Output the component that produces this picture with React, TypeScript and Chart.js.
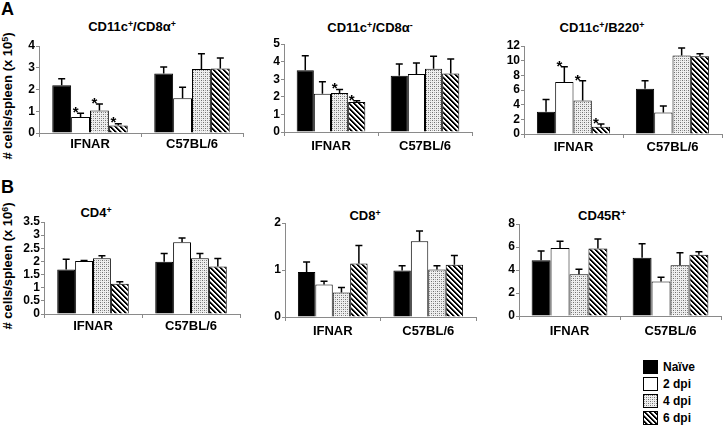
import React, { useEffect, useRef } from "react";
import { Chart, registerables } from "chart.js";

Chart.register(...registerables);

const FONT = "'Liberation Sans', Arial, Helvetica, sans-serif";
Chart.defaults.font.family = FONT;
Chart.defaults.color = "#000";

// ---------- data ----------
const groups = ["IFNAR", "C57BL/6"];
const seriesNames = ["Naïve", "2 dpi", "4 dpi", "6 dpi"];

// Panel A: CD11c+/CD8α+  (x 10^5)   rows = Naïve, 2 dpi, 4 dpi, 6 dpi ; cols = IFNAR, C57BL/6
const cd8aPosMeans = [[2.2, 2.74], [0.73, 1.6], [1.03, 2.94], [0.35, 2.97]];
const cd8aPosErrors = [[0.3, 0.3], [0.18, 0.5], [0.3, 0.7], [0.08, 0.48]];
const cd8aPosStars = [[false, false], [true, false], [true, false], [true, false]];
const cd8aPosAxis = [4, 1]; // max, step

// Panel A: CD11c+/CD8α-
const cd8aNegMeans = [[3.51, 3.2], [2.18, 3.3], [2.21, 3.6], [1.71, 3.32]];
const cd8aNegErrors = [[0.82, 0.67], [0.68, 0.62], [0.2, 0.7], [0.06, 0.83]];
const cd8aNegStars = [[false, false], [false, false], [true, false], [true, false]];
const cd8aNegAxis = [5, 1];

// Panel A: CD11c+/B220+
const b220Means = [[3.02, 6.18], [7.08, 2.93], [4.56, 10.7], [0.99, 10.6]];
const b220Errors = [[1.68, 1.08], [2.08, 0.9], [2.7, 1.03], [0.36, 0.36]];
const b220Stars = [[false, false], [true, false], [true, false], [true, false]];
const b220Axis = [12, 2];

// Panel B: CD4+  (x 10^6)
const cd4Means = [[1.69, 1.99], [2.02, 2.73], [2.12, 2.12], [1.15, 1.81]];
const cd4Errors = [[0.39, 0.31], [0.02, 0.16], [0.1, 0.18], [0.08, 0.3]];
const cd4Stars = [[false, false], [false, false], [false, false], [false, false]];
const cd4Axis = [3.5, 0.5];

// Panel B: CD8+
const cd8Means = [[0.96, 0.99], [0.69, 1.61], [0.52, 1.01], [1.14, 1.11]];
const cd8Errors = [[0.21, 0.1], [0.07, 0.22], [0.11, 0.08], [0.38, 0.2]];
const cd8Stars = [[false, false], [false, false], [false, false], [false, false]];
const cd8Axis = [2, 1];

// Panel B: CD45R+
const cd45rMeans = [[4.84, 5.07], [5.91, 2.99], [3.62, 4.41], [5.86, 5.33]];
const cd45rErrors = [[0.81, 1.22], [0.58, 0.37], [0.44, 1.09], [0.84, 0.26]];
const cd45rStars = [[false, false], [false, false], [false, false], [false, false]];
const cd45rAxis = [8, 2];

// ---------- layout (pixels) ----------
const Y_AXIS_W = 30;
const X_AXIS_H = 26;
const PAD_TOP = 10;
const PAD_RIGHT = 4;
const AXIS_COLOR = "#8a8a8a";

type Geo = { left: number; right: number; top: number; bottom: number; catPct: number; labelPad: number };

type PanelSpec = {
  means: number[][];
  errors: number[][];
  stars: boolean[][];
  axis: number[];
  geo: Geo;
};

const panels: PanelSpec[] = [
  { means: cd8aPosMeans, errors: cd8aPosErrors, stars: cd8aPosStars, axis: cd8aPosAxis,
    geo: { left: 39, right: 243, top: 46, bottom: 133, catPct: 0.74, labelPad: 1 } },
  { means: cd8aNegMeans, errors: cd8aNegErrors, stars: cd8aNegStars, axis: cd8aNegAxis,
    geo: { left: 284, right: 472, top: 44, bottom: 132, catPct: 0.73, labelPad: 4 } },
  { means: b220Means, errors: b220Errors, stars: b220Stars, axis: b220Axis,
    geo: { left: 524, right: 722, top: 46, bottom: 134, catPct: 0.74, labelPad: 3 } },
  { means: cd4Means, errors: cd4Errors, stars: cd4Stars, axis: cd4Axis,
    geo: { left: 44, right: 240, top: 222, bottom: 314, catPct: 0.73, labelPad: 2 } },
  { means: cd8Means, errors: cd8Errors, stars: cd8Stars, axis: cd8Axis,
    geo: { left: 285, right: 476, top: 223, bottom: 317, catPct: 0.73, labelPad: 4 } },
  { means: cd45rMeans, errors: cd45rErrors, stars: cd45rStars, axis: cd45rAxis,
    geo: { left: 519, right: 721, top: 224, bottom: 316, catPct: 0.75, labelPad: 5 } },
];

// ---------- fills ----------
function dotTile(): HTMLCanvasElement {
  const c = document.createElement("canvas");
  c.width = 4;
  c.height = 4;
  const g = c.getContext("2d")!;
  g.fillStyle = "#efefef";
  g.fillRect(0, 0, 4, 4);
  g.fillStyle = "#6e6e6e";
  g.fillRect(0, 0, 1, 1);
  g.fillRect(2, 2, 1, 1);
  g.fillStyle = "#a8a8a8";
  g.fillRect(2, 0, 1, 1);
  g.fillRect(0, 2, 1, 1);
  return c;
}

function hatchTile(): HTMLCanvasElement {
  const n = 5;
  const c = document.createElement("canvas");
  c.width = n;
  c.height = n;
  const g = c.getContext("2d")!;
  const img = g.createImageData(n, n);
  for (let y = 0; y < n; y++) {
    for (let x = 0; x < n; x++) {
      const d = (((x - y) % n) + n) % n;
      const v = d < 2 ? 0 : d === 2 ? 140 : 255;
      const i = (y * n + x) * 4;
      img.data[i] = v;
      img.data[i + 1] = v;
      img.data[i + 2] = v;
      img.data[i + 3] = 255;
    }
  }
  g.putImageData(img, 0, 0);
  return c;
}

const errStarPlugin = {
  id: "errStar",
  afterDatasetsDraw(chart: any, _args: any, opts: any) {
    const { ctx } = chart;
    const ys = chart.scales.y;
    chart.data.datasets.forEach((ds: any, di: number) => {
      const meta = chart.getDatasetMeta(di);
      meta.data.forEach((bar: any, i: number) => {
        const v = ds.data[i] as number;
        const e = opts.errors[di][i] as number;
        const base = ys.getPixelForValue(v);
        const top = ys.getPixelForValue(v + e);
        ctx.save();
        ctx.strokeStyle = "#000";
        ctx.lineWidth = 1.5;
        ctx.beginPath();
        ctx.moveTo(bar.x, base);
        ctx.lineTo(bar.x, top);
        ctx.moveTo(bar.x - 3.5, top);
        ctx.lineTo(bar.x + 3.5, top);
        ctx.stroke();
        if (opts.stars[di][i]) {
          ctx.fillStyle = "#000";
          ctx.font = `bold 15px ${FONT}`;
          ctx.textAlign = "center";
          ctx.textBaseline = "alphabetic";
          ctx.fillText("*", bar.x - 5, top - 5 + 8.8);
        }
        ctx.restore();
      });
    });
  },
};

function Panel({ spec }: { spec: PanelSpec }) {
  const ref = useRef<HTMLCanvasElement | null>(null);
  const g = spec.geo;
  const width = g.right - g.left + Y_AXIS_W + PAD_RIGHT;
  const height = PAD_TOP + (g.bottom - g.top) + X_AXIS_H;

  useEffect(() => {
    const canvas = ref.current!;
    const ctx = canvas.getContext("2d")!;
    const fills: (string | CanvasPattern)[] = [
      "#000000",
      "#ffffff",
      ctx.createPattern(dotTile(), "repeat")!,
      ctx.createPattern(hatchTile(), "repeat")!,
    ];
    const yFont = { size: 12, weight: "bold" as const, family: FONT };
    const xFont = { size: 13, weight: "bold" as const, family: FONT };
    const chart = new Chart(canvas, {
      type: "bar",
      data: {
        labels: groups,
        datasets: seriesNames.map((name, s) => ({
          label: name,
          data: spec.means[s],
          backgroundColor: fills[s] as any,
          borderColor: "#000",
          borderWidth: 1,
          borderSkipped: "start" as const,
          categoryPercentage: g.catPct,
          barPercentage: 1,
        })),
      },
      options: {
        responsive: false,
        animation: false,
        devicePixelRatio: 1,
        events: [],
        layout: { padding: { top: PAD_TOP, right: PAD_RIGHT, left: 0, bottom: 0 } },
        plugins: {
          legend: { display: false },
          tooltip: { enabled: false },
          errStar: { errors: spec.errors, stars: spec.stars },
        } as any,
        scales: {
          x: {
            type: "category",
            grid: { offset: true, drawOnChartArea: false, drawTicks: true, tickLength: 4, color: AXIS_COLOR },
            border: { display: true, color: AXIS_COLOR, width: 1 },
            ticks: { padding: g.labelPad - 1, font: xFont, color: "#000", maxRotation: 0, autoSkip: false },
            afterFit: (s: any) => {
              s.height = X_AXIS_H;
            },
          },
          y: {
            type: "linear",
            min: 0,
            max: spec.axis[0],
            ticks: {
              stepSize: spec.axis[1],
              padding: 1,
              font: yFont,
              color: "#000",
              autoSkip: false,
              callback: (v: any) => String(Math.round(Number(v) * 100) / 100),
            },
            grid: { drawOnChartArea: false, drawTicks: true, tickLength: 3, color: AXIS_COLOR },
            border: { display: true, color: AXIS_COLOR, width: 1 },
            afterFit: (s: any) => {
              s.width = Y_AXIS_W;
            },
          },
        },
      },
      plugins: [errStarPlugin as any],
    });
    return () => chart.destroy();
  }, []);

  return (
    <canvas
      ref={ref}
      width={width}
      height={height}
      style={{
        position: "absolute",
        left: g.left - Y_AXIS_W,
        top: g.top - PAD_TOP,
        width,
        height,
      }}
    />
  );
}

const supStyle: React.CSSProperties = { fontSize: "0.68em", verticalAlign: "0.45em", lineHeight: 0 };

function Title({ cx, cy, children }: { cx: number; cy: number; children: React.ReactNode }) {
  return (
    <div
      style={{
        position: "absolute",
        left: cx,
        top: cy - 6.5,
        transform: "translateX(-50%)",
        font: `bold 13px ${FONT}`,
        lineHeight: "13px",
        whiteSpace: "nowrap",
      }}
    >
      {children}
    </div>
  );
}

function YTitle({ cx, cy, exp }: { cx: number; cy: number; exp: string }) {
  return (
    <div
      style={{
        position: "absolute",
        left: cx,
        top: cy,
        transform: "translate(-50%, -50%) rotate(-90deg)",
        font: `bold 13px ${FONT}`,
        lineHeight: "14px",
        whiteSpace: "nowrap",
      }}
    >
      # cells/spleen (x 10<sup style={supStyle}>{exp}</sup>)
    </div>
  );
}

function Legend() {
  const dot = dotTile().toDataURL();
  const hatch = hatchTile().toDataURL();
  const bgs = ["#000", "#fff", `url(${dot})`, `url(${hatch})`];
  return (
    <>
      {seriesNames.map((name, i) => (
        <React.Fragment key={name}>
          <div
            style={{
              position: "absolute",
              left: 643,
              top: 360 + i * 17,
              width: 13,
              height: 12,
              border: "1px solid #000",
              background: bgs[i],
            }}
          />
          <div
            style={{
              position: "absolute",
              left: 663,
              top: 360 + i * 17,
              font: `bold 12px ${FONT}`,
              lineHeight: "14px",
              whiteSpace: "nowrap",
            }}
          >
            {name}
          </div>
        </React.Fragment>
      ))}
    </>
  );
}

export default function App() {
  return (
    <div
      style={{
        position: "absolute",
        left: 0,
        top: 0,
        width: 726,
        height: 428,
        background: "#fff",
        overflow: "hidden",
        color: "#000",
      }}
    >
      <div style={{ position: "absolute", left: 1, top: 0, font: `bold 18px ${FONT}`, lineHeight: "18px" }}>A</div>
      <div style={{ position: "absolute", left: 1, top: 178, font: `bold 18px ${FONT}`, lineHeight: "18px" }}>B</div>

      <Title cx={132} cy={26.5}>
        CD11c<sup style={supStyle}>+</sup>/CD8α<sup style={supStyle}>+</sup>
      </Title>
      <Title cx={370} cy={27}>
        CD11c<sup style={supStyle}>+</sup>/CD8α<sup style={supStyle}>-</sup>
      </Title>
      <Title cx={602} cy={27}>
        CD11c<sup style={supStyle}>+</sup>/B220<sup style={supStyle}>+</sup>
      </Title>
      <Title cx={96} cy={212}>
        CD4<sup style={supStyle}>+</sup>
      </Title>
      <Title cx={365} cy={215}>
        CD8<sup style={supStyle}>+</sup>
      </Title>
      <Title cx={602} cy={215}>
        CD45R<sup style={supStyle}>+</sup>
      </Title>

      <YTitle cx={8} cy={96} exp="5" />
      <YTitle cx={8} cy={266} exp="6" />

      {panels.map((p, i) => (
        <Panel key={i} spec={p} />
      ))}

      <Legend />
    </div>
  );
}
